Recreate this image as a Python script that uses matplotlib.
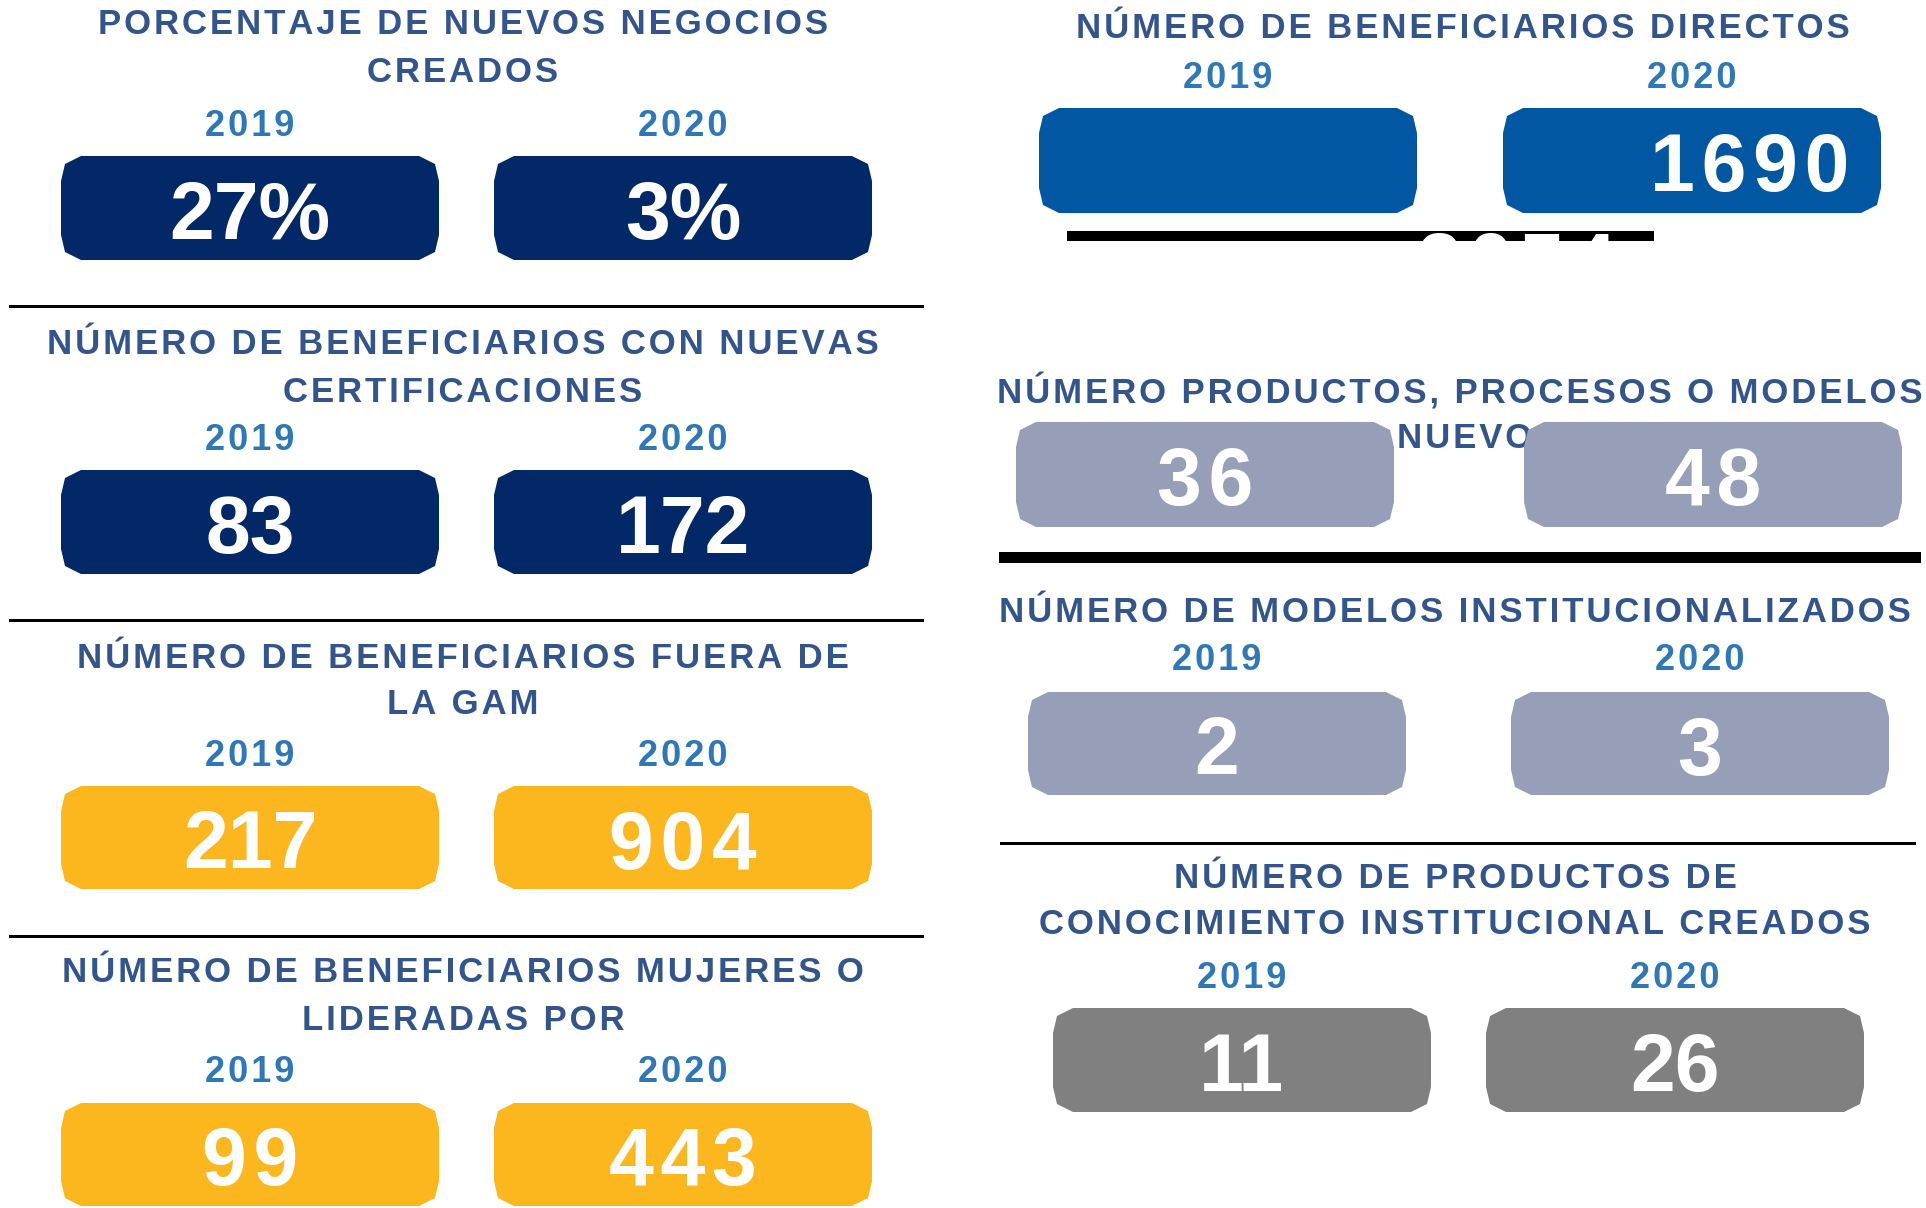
import matplotlib
matplotlib.use('Agg')
import matplotlib.pyplot as plt
import matplotlib.patches as patches

# Textos y valores del infográfico
panel_titles = [
    ["PORCENTAJE DE NUEVOS NEGOCIOS", "CREADOS"],
    ["NÚMERO DE BENEFICIARIOS CON NUEVAS", "CERTIFICACIONES"],
    ["NÚMERO DE BENEFICIARIOS FUERA DE", "LA GAM"],
    ["NÚMERO DE BENEFICIARIOS MUJERES O", "LIDERADAS POR"],
    ["NÚMERO DE BENEFICIARIOS DIRECTOS"],
    ["NÚMERO PRODUCTOS, PROCESOS O MODELOS", "NUEVOS"],
    ["NÚMERO DE MODELOS INSTITUCIONALIZADOS"],
    ["NÚMERO DE PRODUCTOS DE", "CONOCIMIENTO INSTITUCIONAL CREADOS"],
]
years = ["2019", "2020"]
values_2019 = ["27%", "83", "217", "99", "2054", "36", "2", "11"]
values_2020 = ["3%", "172", "904", "443", "1690", "48", "3", "26"]

# Colores
NAVY = "#022868"
BLUE = "#0257A3"
GREYBLUE = "#969EB8"
GREY = "#808080"
YELLOW = "#FDB71E"
TITLE_COLOR = "#34558B"
YEAR_COLOR = "#2E78B7"
panel_colors = [NAVY, NAVY, YELLOW, YELLOW, BLUE, GREYBLUE, GREYBLUE, GREY]
# espaciado extra entre cifras (número de espacios finos)
spacing_2019 = [0, 0, 0, 1, 1, 1, 0, 0]
spacing_2020 = [0, 0, 1, 1, 1, 1, 0, 0]

# Posiciones (px de la imagen, y hacia abajo)
title_x = [[463, 463], [463, 463], [463, 463], [463, 463], [1463],
           [1460, 1478], [1455], [1455, 1455]]
title_y = [[25, 72], [345, 392], [658, 704], [973, 1021], [28], [392, 438], [612], [878, 925]]
year_y = [126, 440, 757, 1073, 79, None, 661, 978]
box_x = [(61, 494), (61, 494), (61, 494), (61, 494), (1039, 1503), (1016, 1524), (1028, 1511), (1053, 1486)]
box_y = [(156, 260), (470, 574), (786, 889), (1103, 1206), (108, 213), (422, 527), (692, 795), (1008, 1112)]
BOX_W = 378

lines = [  # x0, x1, y, grosor
    (9, 924, 306, 3), (9, 924, 620, 3), (9, 924, 936, 3),
    (999, 1921, 557, 11), (1000, 1916, 843, 3),
]

FONT = ["Liberation Sans", "DejaVu Sans"]
PX = 100 / 72.0
HAIR = "\u200a"


def spaced(s, n=1):
    return (HAIR * n).join(s)


def box_shape(x0, y0, w, h):
    pts = [
        (x0 + 20, y0), (x0 + w - 20, y0), (x0 + w - 4, y0 + 8), (x0 + w, y0 + 25),
        (x0 + w, y0 + h - 25), (x0 + w - 4, y0 + h - 8), (x0 + w - 20, y0 + h),
        (x0 + 20, y0 + h), (x0 + 4, y0 + h - 8), (x0, y0 + h - 25),
        (x0, y0 + 25), (x0 + 4, y0 + 8),
    ]
    return pts


def draw_value(ax, text, cx, cy, size, sp):
    em = size * PX
    ax.text(cx, cy + 2 + 0.36 * em, spaced(text, sp), fontsize=size, fontweight='bold',
            color='white', ha='center', va='baseline', family=FONT, zorder=4)


fig = plt.figure(figsize=(19.26, 12.08), dpi=100)
ax = fig.add_axes([0, 0, 1, 1])
ax.set_xlim(0, 1926)
ax.set_ylim(1208, 0)
ax.axis('off')

for i, title in enumerate(panel_titles):
    for line, tx, ty in zip(title, title_x[i], title_y[i]):
        ax.text(tx, ty, spaced(line), fontsize=25, fontweight='bold', color=TITLE_COLOR,
                ha='center', va='center', family=FONT, zorder=1)

    y0, y1 = box_y[i]
    for k, bx in enumerate(box_x[i]):
        ax.add_patch(patches.Polygon(box_shape(bx, y0, BOX_W, y1 - y0), closed=True,
                                     facecolor=panel_colors[i], edgecolor='none', zorder=2))
        if year_y[i] is not None:
            ax.text(bx + BOX_W / 2, year_y[i], spaced(years[k]), fontsize=26, fontweight='bold',
                    color=YEAR_COLOR, ha='center', va='center', family=FONT, zorder=1)

    cy = (y0 + y1) / 2
    c1 = box_x[i][0] + BOX_W / 2
    c2 = box_x[i][1] + BOX_W / 2
    if i == 4:
        # el valor 2019 quedó desplazado debajo de la caja, sobre la barra negra
        ax.add_patch(patches.Rectangle((1067, 231), 587, 10, facecolor='black',
                                       edgecolor='none', zorder=3))
        draw_value(ax, values_2019[i], 1517, 259, 58, spacing_2019[i])
        draw_value(ax, values_2020[i], c2 + 58, cy, 58, spacing_2020[i])
    else:
        draw_value(ax, values_2019[i], c1, cy, 58, spacing_2019[i])
        draw_value(ax, values_2020[i], c2, cy, 58, spacing_2020[i])

for x0, x1, y, lw in lines:
    ax.add_patch(patches.Rectangle((x0, y - lw / 2), x1 - x0, lw, facecolor='black',
                                   edgecolor='none', zorder=3))

fig.savefig("out.png", dpi=100, facecolor='white')
plt.close('all')
